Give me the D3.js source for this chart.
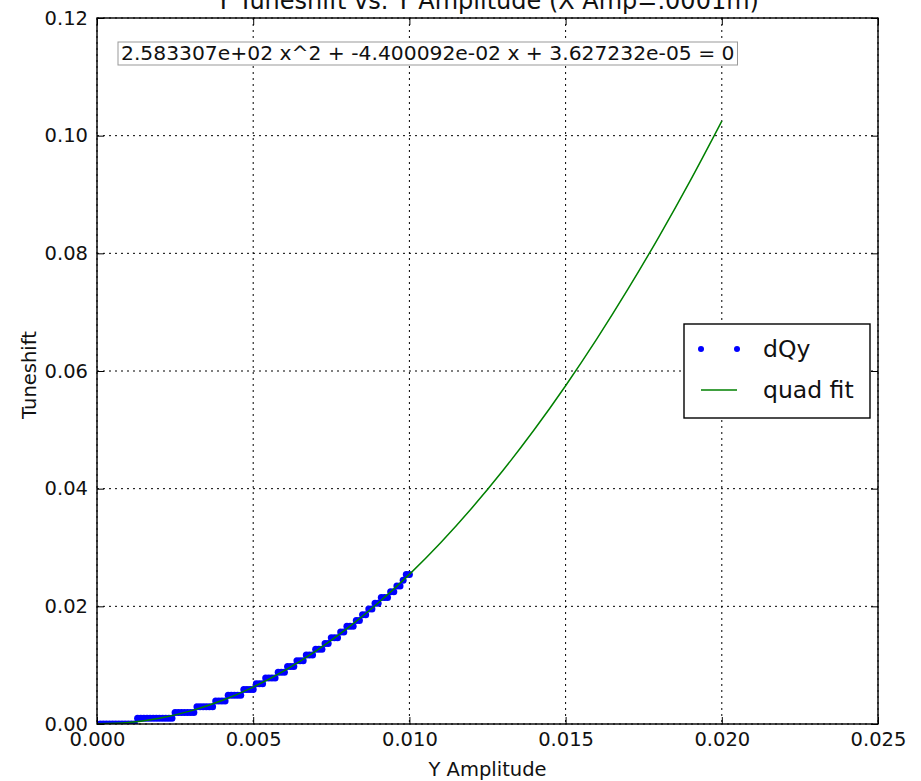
<!DOCTYPE html>
<html>
<head>
<meta charset="utf-8">
<script src="https://cdn.jsdelivr.net/npm/d3@7"></script>
<style>
  body { margin: 0; background: #fff; }
  text { font-family: "DejaVu Sans", sans-serif; }
</style>
</head>
<body>
<div id="chart"></div>
<script>
var amplitude = [
  0.0001, 0.0002, 0.0003, 0.0004, 0.0005, 0.0006, 0.0007, 0.0008, 0.0009, 0.0010,
  0.0011, 0.0012, 0.0013, 0.0014, 0.0015, 0.0016, 0.0017, 0.0018, 0.0019, 0.0020,
  0.0021, 0.0022, 0.0023, 0.0024, 0.0025, 0.0026, 0.0027, 0.0028, 0.0029, 0.0030,
  0.0031, 0.0032, 0.0033, 0.0034, 0.0035, 0.0036, 0.0037, 0.0038, 0.0039, 0.0040,
  0.0041, 0.0042, 0.0043, 0.0044, 0.0045, 0.0046, 0.0047, 0.0048, 0.0049, 0.0050,
  0.0051, 0.0052, 0.0053, 0.0054, 0.0055, 0.0056, 0.0057, 0.0058, 0.0059, 0.0060,
  0.0061, 0.0062, 0.0063, 0.0064, 0.0065, 0.0066, 0.0067, 0.0068, 0.0069, 0.0070,
  0.0071, 0.0072, 0.0073, 0.0074, 0.0075, 0.0076, 0.0077, 0.0078, 0.0079, 0.0080,
  0.0081, 0.0082, 0.0083, 0.0084, 0.0085, 0.0086, 0.0087, 0.0088, 0.0089, 0.0090,
  0.0091, 0.0092, 0.0093, 0.0094, 0.0095, 0.0096, 0.0097, 0.0098, 0.0099, 0.0100
];
var dQy = [
  0, 0, 0, 0, 0, 0, 0, 0, 0, 0,
  0, 0, 0.000977, 0.000977, 0.000977, 0.000977, 0.000977, 0.000977, 0.000977, 0.000977,
  0.000977, 0.000977, 0.000977, 0.000977, 0.001953, 0.001953, 0.001953, 0.001953, 0.001953, 0.001953,
  0.001953, 0.002930, 0.002930, 0.002930, 0.002930, 0.002930, 0.002930, 0.003906, 0.003906, 0.003906,
  0.003906, 0.004883, 0.004883, 0.004883, 0.004883, 0.004883, 0.005859, 0.005859, 0.005859, 0.005859,
  0.006836, 0.006836, 0.006836, 0.007813, 0.007813, 0.007813, 0.007813, 0.008789, 0.008789, 0.008789,
  0.009766, 0.009766, 0.009766, 0.010742, 0.010742, 0.010742, 0.011719, 0.011719, 0.011719, 0.012695,
  0.012695, 0.012695, 0.013672, 0.013672, 0.014648, 0.014648, 0.014648, 0.015625, 0.015625, 0.016602,
  0.016602, 0.016602, 0.017578, 0.017578, 0.018555, 0.018555, 0.019531, 0.019531, 0.020508, 0.020508,
  0.021484, 0.021484, 0.021484, 0.022461, 0.022461, 0.023438, 0.023438, 0.024414, 0.025391, 0.025391
];

// quadratic fit curve, sampled along the green line
var fitAmplitude = [
  0.000, 0.001, 0.002, 0.003, 0.004, 0.005, 0.006, 0.007, 0.008, 0.009, 0.010,
  0.011, 0.012, 0.013, 0.014, 0.015, 0.016, 0.017, 0.018, 0.019, 0.020
];
var fitTuneshift = [
  0.000036, 0.000251, 0.000982, 0.002229, 0.003994, 0.006275, 0.009072, 0.012387, 0.016217, 0.020565, 0.025429,
  0.030810, 0.036708, 0.043122, 0.050053, 0.057501, 0.065465, 0.073946, 0.082943, 0.092457, 0.102488
];

var xTicks = [0, 0.005, 0.010, 0.015, 0.020, 0.025];
var yTicks = [0, 0.02, 0.04, 0.06, 0.08, 0.10, 0.12];
var titleText = 'Y Tuneshift vs. Y Amplitude (X Amp=.0001m)';
var xLabel = 'Y Amplitude';
var yLabel = 'Tuneshift';
var equationText = '2.583307e+02 x^2 + -4.400092e-02 x + 3.627232e-05 = 0';
var legendLabels = ['dQy', 'quad fit'];

var svg = d3.select('#chart').append('svg')
    .attr('width', 921)
    .attr('height', 781),
  margin = {top: 18, right: 43, bottom: 57, left: 97},
  width = svg.attr('width') - margin.left - margin.right,
  height = svg.attr('height') - margin.top - margin.bottom,
  g = svg.append('g').attr('transform', 'translate(' + margin.left + ',' + margin.top + ')');

var x = d3.scaleLinear().domain([0, 0.025]).range([0, width]),
  y = d3.scaleLinear().domain([0, 0.12]).range([height, 0]);

var blue = '#0000ff', green = '#008000';

svg.append('defs').append('clipPath').attr('id', 'plotclip')
  .append('rect').attr('width', width).attr('height', height);

// dotted grid
g.append('g').selectAll('line').data(xTicks).enter().append('line')
  .attr('x1', function(d) { return x(d); }).attr('x2', function(d) { return x(d); })
  .attr('y1', 0).attr('y2', height)
  .attr('stroke', '#000').attr('stroke-width', 1).attr('stroke-dasharray', '2,4');
g.append('g').selectAll('line').data(yTicks).enter().append('line')
  .attr('y1', function(d) { return y(d); }).attr('y2', function(d) { return y(d); })
  .attr('x1', 0).attr('x2', width)
  .attr('stroke', '#000').attr('stroke-width', 1).attr('stroke-dasharray', '2,4');

// data
var plot = g.append('g').attr('clip-path', 'url(#plotclip)');

plot.selectAll('circle').data(amplitude).enter().append('circle')
  .attr('cx', function(d) { return x(d); })
  .attr('cy', function(d, i) { return y(dQy[i]); })
  .attr('r', 3.5)
  .attr('fill', blue);

var line = d3.line()
  .curve(d3.curveMonotoneX)
  .x(function(d) { return x(d); })
  .y(function(d, i) { return y(fitTuneshift[i]); });

plot.append('path')
  .attr('d', line(fitAmplitude))
  .attr('fill', 'none')
  .attr('stroke', green)
  .attr('stroke-width', 1.5);

// axes, ticks pointing inward on all four sides
function styleAxis(sel) {
  sel.attr('font-family', '"DejaVu Sans", sans-serif').attr('font-size', 19.5);
  sel.select('.domain').remove();
  sel.selectAll('.tick line').attr('stroke', '#000');
  sel.selectAll('.tick text').attr('fill', '#111');
}

g.append('g')
  .attr('transform', 'translate(0,' + height + ')')
  .call(d3.axisBottom(x).tickValues(xTicks).tickFormat(d3.format('.3f'))
    .tickSizeInner(-7).tickSizeOuter(0).tickPadding(8))
  .call(styleAxis);
g.append('g')
  .call(d3.axisTop(x).tickValues(xTicks).tickFormat('').tickSizeInner(-7).tickSizeOuter(0))
  .call(styleAxis);
g.append('g')
  .call(d3.axisLeft(y).tickValues(yTicks).tickFormat(d3.format('.2f'))
    .tickSizeInner(-7).tickSizeOuter(0).tickPadding(9))
  .call(styleAxis);
g.append('g')
  .attr('transform', 'translate(' + width + ',0)')
  .call(d3.axisRight(y).tickValues(yTicks).tickFormat('').tickSizeInner(-7).tickSizeOuter(0))
  .call(styleAxis);

// frame
g.append('rect')
  .attr('width', width).attr('height', height)
  .attr('fill', 'none').attr('stroke', '#000').attr('stroke-width', 1.4);

// equation box
var eq = g.append('g').attr('transform', 'translate(24,42)');
var eqRect = eq.append('rect').attr('fill', '#fff').attr('stroke', '#999').attr('stroke-width', 1);
var eqText = eq.append('text').attr('font-size', 20.3).attr('fill', '#111').text(equationText);
var bb = eqText.node().getBBox();
eqRect.attr('x', bb.x - 3).attr('y', bb.y + 1).attr('width', bb.width + 6).attr('height', bb.height - 1);

// legend
var legend = g.append('g').attr('transform', 'translate(' + (width - 194) + ',' + (height / 2 - 47) + ')');
legend.append('rect')
  .attr('width', 186).attr('height', 94)
  .attr('fill', '#fff').attr('stroke', '#000').attr('stroke-width', 1.4);
legend.selectAll('circle').data([17, 53]).enter().append('circle')
  .attr('cx', function(d) { return d; }).attr('cy', 25)
  .attr('r', 3).attr('fill', blue);
legend.append('line')
  .attr('x1', 17).attr('x2', 53).attr('y1', 66).attr('y2', 66)
  .attr('stroke', green).attr('stroke-width', 1.5);
legend.selectAll('text').data(legendLabels).enter().append('text')
  .attr('x', 79)
  .attr('y', function(d, i) { return 25 + i * 41; })
  .attr('dy', '0.35em')
  .attr('font-size', 23.5)
  .attr('fill', '#111')
  .text(function(d) { return d; });

// title and labels
g.append('text')
  .attr('x', width / 2).attr('y', -9)
  .attr('text-anchor', 'middle')
  .attr('font-size', 24)
  .attr('fill', '#111')
  .text(titleText);
g.append('text')
  .attr('x', width / 2).attr('y', height + 52)
  .attr('text-anchor', 'middle')
  .attr('font-size', 19.5)
  .attr('fill', '#111')
  .text(xLabel);
g.append('text')
  .attr('transform', 'translate(-61,' + (height / 2 + 4) + ') rotate(-90)')
  .attr('text-anchor', 'middle')
  .attr('font-size', 19.5)
  .attr('fill', '#111')
  .text(yLabel);
</script>
</body>
</html>
